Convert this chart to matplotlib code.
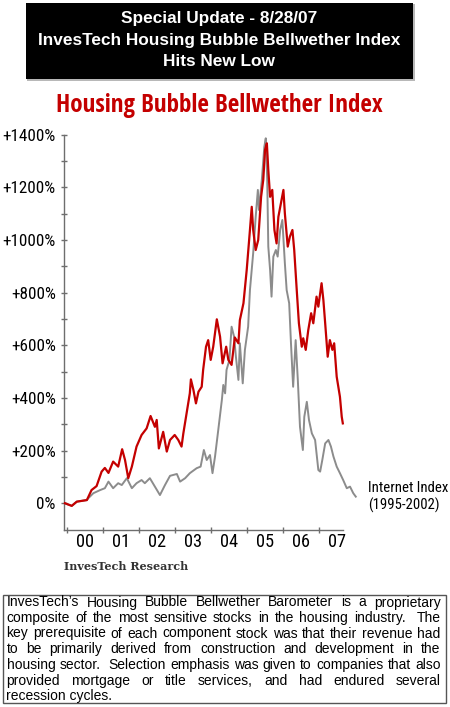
import matplotlib
matplotlib.use('Agg')
import matplotlib.pyplot as plt
from matplotlib import font_manager as fm
from matplotlib.font_manager import FontProperties
from matplotlib.patches import Rectangle
from matplotlib.ticker import FixedLocator, NullFormatter, FixedFormatter

# ---------------- data ----------------
housing_years = [1999.95, 2000.14, 2000.28, 2000.56, 2000.69, 2000.83, 2000.97, 2001.06, 2001.16, 2001.29,
                 2001.43, 2001.54, 2001.62, 2001.71, 2001.81, 2001.94, 2002.08, 2002.22, 2002.33, 2002.45,
                 2002.50, 2002.56, 2002.68, 2002.78, 2002.87, 2003.00, 2003.10, 2003.19, 2003.24, 2003.33,
                 2003.42, 2003.45, 2003.52, 2003.59, 2003.66, 2003.75, 2003.79, 2003.87, 2003.93, 2004.00,
                 2004.07, 2004.17, 2004.26, 2004.33, 2004.43, 2004.49, 2004.58, 2004.67, 2004.77, 2004.81,
                 2004.91, 2005.00, 2005.09, 2005.14, 2005.18, 2005.25, 2005.32, 2005.40, 2005.46, 2005.51,
                 2005.56, 2005.60, 2005.65, 2005.71, 2005.77, 2005.83, 2005.88, 2005.95, 2006.02, 2006.06,
                 2006.14, 2006.20, 2006.27, 2006.32, 2006.39, 2006.45, 2006.53, 2006.57, 2006.64, 2006.71,
                 2006.79, 2006.85, 2006.94, 2006.99, 2007.08, 2007.13, 2007.18, 2007.25, 2007.31, 2007.38,
                 2007.43, 2007.50, 2007.59, 2007.64, 2007.67]
housing_pct = [1, -9, 7, 13, 51, 66, 121, 135, 116, 159,
               140, 206, 165, 96, 140, 216, 260, 285, 332, 291,
               317, 209, 272, 197, 241, 260, 241, 216, 266, 342,
               418, 471, 431, 380, 424, 443, 507, 595, 620, 545,
               595, 699, 633, 532, 595, 545, 526, 630, 608, 696,
               760, 886, 1038, 1126, 1038, 962, 1000, 1164, 1228, 1342,
               1367, 1266, 1164, 1190, 1038, 987, 1088, 1139, 1190, 1101,
               975, 1013, 1038, 962, 810, 684, 595, 627, 583, 658,
               722, 684, 785, 747, 836, 772, 684, 557, 620, 583,
               608, 481, 405, 329, 304]

internet_years = [1999.95, 2000.14, 2000.28, 2000.56, 2000.60, 2000.74, 2000.93, 2001.06, 2001.16, 2001.29,
                  2001.43, 2001.53, 2001.67, 2001.81, 2001.94, 2002.08, 2002.17, 2002.31, 2002.45, 2002.59,
                  2002.73, 2002.87, 2003.06, 2003.15, 2003.29, 2003.42, 2003.61, 2003.72, 2003.81, 2003.89,
                  2003.98, 2004.05, 2004.12, 2004.21, 2004.31, 2004.35, 2004.40, 2004.44, 2004.52, 2004.58,
                  2004.65, 2004.70, 2004.77, 2004.81, 2004.89, 2004.95, 2005.04, 2005.09, 2005.18, 2005.25,
                  2005.31, 2005.34, 2005.42, 2005.49, 2005.53, 2005.57, 2005.60, 2005.65, 2005.69, 2005.74,
                  2005.81, 2005.86, 2005.93, 2005.99, 2006.06, 2006.11, 2006.18, 2006.23, 2006.29, 2006.36,
                  2006.42, 2006.48, 2006.56, 2006.60, 2006.67, 2006.73, 2006.81, 2006.90, 2006.99, 2007.04,
                  2007.10, 2007.18, 2007.27, 2007.34, 2007.41, 2007.50, 2007.59, 2007.68, 2007.78, 2007.87,
                  2007.96, 2008.03]
internet_pct = [1, -9, 7, 13, 20, 39, 51, 58, 83, 58,
                77, 70, 96, 58, 77, 89, 77, 96, 64, 32,
                70, 105, 112, 83, 96, 115, 134, 140, 203, 165,
                184, 115, 178, 279, 393, 450, 418, 507, 545, 671,
                633, 557, 469, 608, 456, 583, 671, 810, 950, 1088,
                1190, 1114, 1228, 1354, 1386, 1228, 975, 886, 785, 937,
                962, 937, 1038, 1076, 912, 810, 760, 608, 443, 620,
                469, 291, 203, 329, 386, 317, 266, 241, 127, 121,
                165, 228, 241, 216, 178, 140, 115, 89, 58, 64,
                39, 26]

year_ticks = [2000, 2001, 2002, 2003, 2004, 2005, 2006, 2007]
year_labels = ['00', '01', '02', '03', '04', '05', '06', '07']
pct_ticks = [0, 200, 400, 600, 800, 1000, 1200, 1400]
pct_labels = ['0%', '+200%', '+400%', '+600%', '+800%', '+1000%', '+1200%', '+1400%']

header_lines = ['Special Update - 8/28/07',
                'InvesTech Housing Bubble Bellwether Index',
                'Hits New Low']
chart_title = 'Housing Bubble Bellwether Index'
series_note = ['Internet Index', '(1995-2002)']
credit = 'InvesTech Research'
body_lines = [
    "InvesTech\u2019s Housing Bubble Bellwether Barometer is a proprietary",
    "composite of the most sensitive stocks in the housing industry.  The",
    "key prerequisite of each component stock was that their revenue had",
    "to be primarily derived from construction and development in the",
    "housing sector.  Selection emphasis was given to companies that also",
    "provided mortgage or title services, and had endured several",
    "recession cycles.",
]

# ---------------- fonts ----------------
_WMAP = {'thin': 100, 'extralight': 200, 'ultralight': 200, 'light': 300, 'normal': 400,
         'regular': 400, 'book': 400, 'medium': 500, 'semibold': 600, 'demibold': 600,
         'bold': 700, 'extrabold': 800, 'heavy': 800, 'black': 900}

def _weight(f):
    w = f.weight
    if isinstance(w, str):
        return _WMAP.get(w.lower().replace(' ', '').replace('-', ''), 400)
    return int(w)

def find_narrow(target_weight):
    prefs = ['liberation sans narrow', 'arial narrow', 'noto sans', 'open sans', 'roboto',
             'dejavu sans', 'lato', 'inter']
    best = None
    best_rank = None
    for f in fm.fontManager.ttflist:
        n = f.name.lower()
        st = str(f.stretch).lower()
        narrow = ('narrow' in n or 'condensed' in n or st in ('condensed', 'semi-condensed'))
        if not narrow or 'mono' in n or ('serif' in n and 'sans' not in n):
            continue
        if f.style != 'normal':
            continue
        if 'extra' in n or 'ultra' in n or st in ('extra-condensed', 'ultra-condensed'):
            continue
        if 'semi' in n or st == 'semi-condensed':
            semi = 1
        else:
            semi = 0
        fam = len(prefs)
        for i, p in enumerate(prefs):
            if n.startswith(p):
                fam = i
                break
        rank = abs(_weight(f) - target_weight) * 100 + semi * 20 + fam
        if best_rank is None or rank < best_rank:
            best, best_rank = f, rank
    return best

_nr = find_narrow(400)
_nb = find_narrow(700)

def narrow_fp(size, bold=False):
    f = _nb if bold else _nr
    if f is not None:
        return FontProperties(fname=f.fname, size=size)
    return FontProperties(family=['Liberation Sans', 'DejaVu Sans'],
                          weight='bold' if bold else 'normal', size=size)

SANS = ['Liberation Sans', 'DejaVu Sans']
RED = '#c40000'
GREY = '#8c8c8c'
AXC = '#6e6e6e'

# ---------------- figure ----------------
W, H = 450, 707
fig = plt.figure(figsize=(W / 100, H / 100), dpi=100)
fig.patch.set_facecolor('white')
renderer = fig.canvas.get_renderer()

def fx(px):
    return px / W

def fy(py):
    return 1 - py / H

def text_w(s, fp):
    t = fig.text(0, 0, s, fontproperties=fp)
    w = t.get_window_extent(renderer).width
    t.remove()
    return w

def fit_size(s, bold, target, max_size):
    w = text_w(s, narrow_fp(10, bold))
    return min(max_size, 10 * target / w)

# header box
fig.patches.append(Rectangle((fx(27), fy(80.5)), 388 / W, 77 / H, transform=fig.transFigure,
                             facecolor='#b8b8b8', edgecolor='none', zorder=0))
fig.patches.append(Rectangle((fx(26), fy(79)), 387 / W, 76 / H, transform=fig.transFigure,
                             facecolor='black', edgecolor='none', zorder=1))
for txt, yy in zip(header_lines, [19, 40, 61]):
    fig.text(fx(219), fy(yy), txt, color='white', fontsize=12.4, fontweight='bold',
             family=SANS, ha='center', va='center', zorder=2)

# chart title
title_size = fit_size(chart_title, True, 327, 18)
fig.text(fx(219.5), fy(105), chart_title, color=RED, ha='center', va='center',
         fontproperties=narrow_fp(title_size, True))

# axes
ax_l, ax_r, ax_t, ax_b = 64, 342.7, 134.6, 530
ax = fig.add_axes([fx(ax_l), fy(ax_b), (ax_r - ax_l) / W, (ax_b - ax_t) / H])
ax.set_facecolor('none')
ax.plot(internet_years, internet_pct, color=GREY, lw=1.4, clip_on=False, zorder=2)
ax.plot(housing_years, housing_pct, color=RED, lw=1.6, clip_on=False, zorder=3)

x0 = 2000 - (66.7 - ax_l) / 36.0
x1 = 2000 + (ax_r - 66.7) / 36.0
ax.set_xlim(x0, x1)
ax.set_ylim(-100.6, 1400)

for s in ['top', 'right']:
    ax.spines[s].set_visible(False)
for s in ['left', 'bottom']:
    ax.spines[s].set_color(AXC)
    ax.spines[s].set_linewidth(1.0)

ylab_size = fit_size('+1400%', False, 57, 12.3)
ax.yaxis.set_major_locator(FixedLocator(pct_ticks))
ax.yaxis.set_major_formatter(FixedFormatter(pct_labels))
ax.yaxis.set_minor_locator(FixedLocator([100, 300, 500, 700, 900, 1100, 1300]))
ax.tick_params(axis='y', which='both', direction='inout', length=5, width=1, color=AXC)
ax.tick_params(axis='y', which='major', pad=3.5, labelcolor='black')
for lab in ax.get_yticklabels():
    lab.set_fontproperties(narrow_fp(ylab_size))

xlab_size = fit_size('00', False, 19.5, 13.2)
ax.xaxis.set_major_locator(FixedLocator(year_ticks))
ax.xaxis.set_major_formatter(NullFormatter())
ax.xaxis.set_minor_locator(FixedLocator([y + 0.5 for y in year_ticks]))
ax.xaxis.set_minor_formatter(FixedFormatter(year_labels))
ax.tick_params(axis='x', which='major', direction='inout', length=5, width=1, color=AXC)
ax.tick_params(axis='x', which='minor', length=0, pad=2.5, labelcolor='black')
for lab in ax.get_xticklabels(minor=True):
    lab.set_fontproperties(narrow_fp(xlab_size))

# series note
note_size = fit_size(series_note[0], False, 80, 10.6)
fig.text(fx(368), fy(488), series_note[0], ha='left', va='center', fontproperties=narrow_fp(note_size))
fig.text(fx(368), fy(505), series_note[1], ha='left', va='center', fontproperties=narrow_fp(note_size))

# credit
fig.text(fx(64), fy(566), credit, fontsize=8, fontweight='bold', family=['DejaVu Serif'],
         color='#333333', ha='left', va='center')

# bottom text box
fig.patches.append(Rectangle((fx(3), fy(703)), 443 / W, 108 / H, transform=fig.transFigure,
                             facecolor='white', edgecolor='#555555', linewidth=1.0, zorder=0))

tx0, tx1 = 6.5, 440.5
line_ys = [602.5, 618, 633.5, 649.3, 665.3, 681, 696.3]
body_fp = FontProperties(family=SANS, size=10.6)
natural = max(text_w(l, body_fp) for l in body_lines)
BODY_SIZE = 10.6 if natural <= (tx1 - tx0) else 10.6 * (tx1 - tx0) / natural
body_fp = FontProperties(family=SANS, size=BODY_SIZE)

for i, (line, yy) in enumerate(zip(body_lines, line_ys)):
    if i == len(body_lines) - 1:
        fig.text(fx(tx0), fy(yy), line, fontproperties=body_fp, ha='left', va='center')
        continue
    words = line.split(' ')
    objs = []
    widths = []
    for w in words:
        if w:
            t = fig.text(0, fy(yy), w, fontproperties=body_fp, ha='left', va='center')
            objs.append(t)
            widths.append(t.get_window_extent(renderer).width)
        else:
            objs.append(None)
            widths.append(0.0)
    gap = (tx1 - tx0 - sum(widths)) / (len(words) - 1)
    xx = tx0
    for t, wdt in zip(objs, widths):
        if t is not None:
            t.set_x(fx(xx))
        xx += wdt + gap

fig.savefig('out.png', dpi=100, facecolor='white')
